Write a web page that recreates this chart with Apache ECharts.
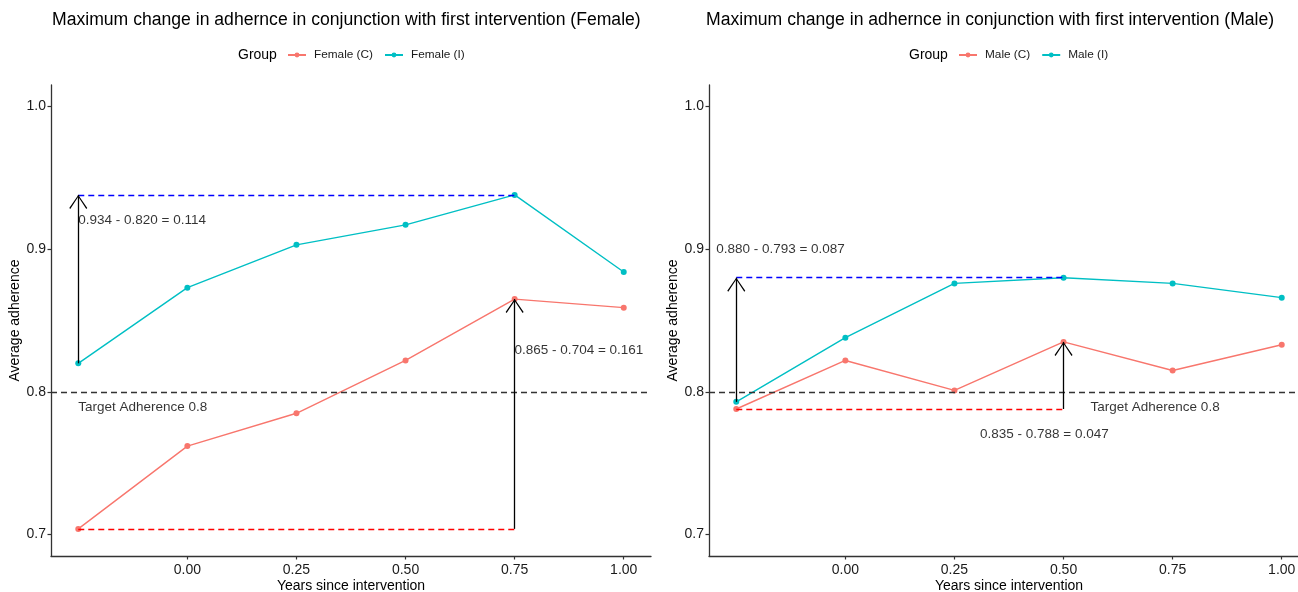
<!DOCTYPE html>
<html>
<head>
<meta charset="utf-8">
<script src="https://cdn.jsdelivr.net/npm/echarts@6/dist/echarts.min.js"></script>
<style>html,body{margin:0;padding:0;background:#fff}#c{width:1298px;height:592px}</style>
</head>
<body>
<div id="c"></div>
<script>
// ---- data ----
const xValues = [-0.25, 0, 0.25, 0.5, 0.75, 1.0];
const femaleC = [0.704, 0.762, 0.785, 0.822, 0.865, 0.859];
const femaleI = [0.820, 0.873, 0.903, 0.917, 0.938, 0.884];
const maleC = [0.788, 0.822, 0.801, 0.835, 0.815, 0.833];
const maleI = [0.793, 0.838, 0.876, 0.880, 0.876, 0.866];
const xTickValues = [0, 0.25, 0.5, 0.75, 1.0];
const yTickValues = [0.7, 0.8, 0.9, 1.0];
const targetAdherence = 0.8;
const titles = ['Maximum change in adhernce in conjunction with first intervention (Female)',
                'Maximum change in adhernce in conjunction with first intervention (Male)'];
const legendNames = [['Female (C)', 'Female (I)'], ['Male (C)', 'Male (I)']];
// annotation values
const femaleAnnot = { iFrom: -0.25, iTo: 0.75, iLow: 0.820, iHigh: 0.938, cFrom: -0.25, cTo: 0.75, cLow: 0.704, cHigh: 0.865 };
const maleAnnot = { iFrom: -0.25, iTo: 0.5, iLow: 0.793, iHigh: 0.880, cFrom: -0.25, cTo: 0.5, cLow: 0.788, cHigh: 0.835 };
// annotation text labels: [x, y, text, align]
const femaleLabels = [[-0.25, 0.920, '0.934 - 0.820 = 0.114', 'left'], [0.75, 0.829, '0.865 - 0.704 = 0.161', 'left'], [-0.25, 0.7895, 'Target Adherence 0.8', 'left']];
const maleLabels = [[-0.296, 0.900, '0.880 - 0.793 = 0.087', 'left'], [0.456, 0.770, '0.835 - 0.788 = 0.047', 'center'], [0.562, 0.7895, 'Target Adherence 0.8', 'left']];

const colC = '#F8766D', colI = '#00BFC4';
const FONT = '"Liberation Sans", Arial, sans-serif';
const chevron = 'path://M9,-14 L9,-14 M9,0 L18,13 L17,14 L9,1.8 L1,14 L0,13 Z';

const chart = echarts.init(document.getElementById('c'), null, { renderer: 'canvas' });

function axisPair(i) {
  const common = { axisLine: { show: true, onZero: false, lineStyle: { color: '#333', width: 1.3 } },
    axisTick: { show: true, length: 3.5, lineStyle: { color: '#333', width: 1.2 } },
    nameMoveOverlap: false,
    splitLine: { show: false }, nameTextStyle: { fontFamily: FONT, fontSize: 14, color: '#000' } };
  return {
    x: Object.assign({}, common, { type: 'value', gridIndex: i, min: -0.3125, max: 1.0625,
      name: 'Years since intervention', nameLocation: 'middle', nameGap: 23,
      axisTick: Object.assign({}, common.axisTick, { customValues: xTickValues }),
      axisLabel: { customValues: xTickValues, formatter: v => v.toFixed(2), fontFamily: FONT, fontSize: 14, color: '#1a1a1a', margin: 7 } }),
    y: Object.assign({}, common, { type: 'value', gridIndex: i, min: 0.685, max: 1.015,
      name: 'Average adherence', nameLocation: 'middle', nameGap: 29, nameRotate: 90,
      axisTick: Object.assign({}, common.axisTick, { customValues: yTickValues }),
      axisLabel: { customValues: yTickValues, formatter: v => v.toFixed(1), fontFamily: FONT, fontSize: 14, color: '#1a1a1a', margin: 5 } })
  };
}

function dataSeries(name, vals, color, i, marks) {
  const s = {
    name, type: 'line', xAxisIndex: i, yAxisIndex: i,
    data: xValues.map((x, k) => [x, vals[k]]),
    symbol: 'circle', symbolSize: 6, showSymbol: true,
    lineStyle: { color, width: 1.4 }, itemStyle: { color },
    emphasis: { disabled: true }, z: 3
  };
  if (marks) s.markLine = marks;
  return s;
}

function annotMarks(a) {
  const dash = (c) => ({ color: c, width: 1.4, type: [6, 4] });
  const arrowEnd = { symbol: chevron, symbolSize: [18, 28] };
  return {
    silent: true, symbol: ['none', 'none'], label: { show: false }, animation: false,
    data: [
      [{ coord: [-0.3125, targetAdherence], lineStyle: dash('#333') }, { coord: [1.0625, targetAdherence] }],
      [{ coord: [a.iFrom, a.iHigh], lineStyle: dash('#0000FF') }, { coord: [a.iTo, a.iHigh] }],
      [{ coord: [a.cFrom, a.cLow], lineStyle: dash('#FF0000') }, { coord: [a.cTo, a.cLow] }],
      [{ coord: [a.iFrom, a.iLow], lineStyle: { color: '#000', width: 1.3, type: 'solid' }, itemStyle: { color: '#000' } },
       Object.assign({ coord: [a.iFrom, a.iHigh], itemStyle: { color: '#000' } }, arrowEnd)],
      [{ coord: [a.cTo, a.cLow], lineStyle: { color: '#000', width: 1.3, type: 'solid' }, itemStyle: { color: '#000' } },
       Object.assign({ coord: [a.cTo, a.cHigh], itemStyle: { color: '#000' } }, arrowEnd)]
    ]
  };
}

function labelSeries(labels, i) {
  return {
    type: 'scatter', xAxisIndex: i, yAxisIndex: i, symbolSize: 0.1, silent: true,
    itemStyle: { color: 'transparent' }, z: 5,
    data: labels.map(l => ({ name: l[2], value: [l[0], l[1]],
      label: { show: true, position: [0, 0], align: l[3], verticalAlign: 'middle', formatter: '{b}',
        fontFamily: FONT, fontSize: 13.5, color: '#000' } }))
  };
}

const a0 = axisPair(0), a1 = axisPair(1);
const titleStyle = { fontFamily: FONT, fontSize: 17.6, fontWeight: 'normal', color: '#000' };
const groupStyle = { fontFamily: FONT, fontSize: 14, fontWeight: 'normal', color: '#000' };
const legendCommon = { top: 49, padding: 0, itemGap: 11, itemWidth: 18, itemHeight: 6,
  textStyle: { fontFamily: FONT, fontSize: 11.8, color: '#1a1a1a', padding: [0, 0, 0, 3] } };

const option = {
  animation: false,
  backgroundColor: '#fff',
  textStyle: { fontFamily: FONT },
  title: [
    { text: titles[0], left: 52, top: 11, padding: 0, textStyle: titleStyle },
    { text: titles[1], left: 706, top: 11, padding: 0, textStyle: titleStyle },
    { text: 'Group', left: 238, top: 48, padding: 0, textStyle: groupStyle },
    { text: 'Group', left: 909, top: 48, padding: 0, textStyle: groupStyle }
  ],
  legend: [
    Object.assign({ data: legendNames[0], left: 287 }, legendCommon),
    Object.assign({ data: legendNames[1], left: 958 }, legendCommon)
  ],
  grid: [
    { left: 51, top: 85, width: 600, height: 471, outerBoundsMode: 'none', containLabel: false },
    { left: 709, top: 85, width: 600, height: 471, outerBoundsMode: 'none', containLabel: false }
  ],
  xAxis: [a0.x, a1.x],
  yAxis: [a0.y, a1.y],
  series: [
    dataSeries(legendNames[0][0], femaleC, colC, 0, annotMarks(femaleAnnot)),
    dataSeries(legendNames[0][1], femaleI, colI, 0),
    dataSeries(legendNames[1][0], maleC, colC, 1, annotMarks(maleAnnot)),
    dataSeries(legendNames[1][1], maleI, colI, 1),
    labelSeries(femaleLabels, 0),
    labelSeries(maleLabels, 1)
  ]
};
chart.setOption(option);
</script>
</body>
</html>
